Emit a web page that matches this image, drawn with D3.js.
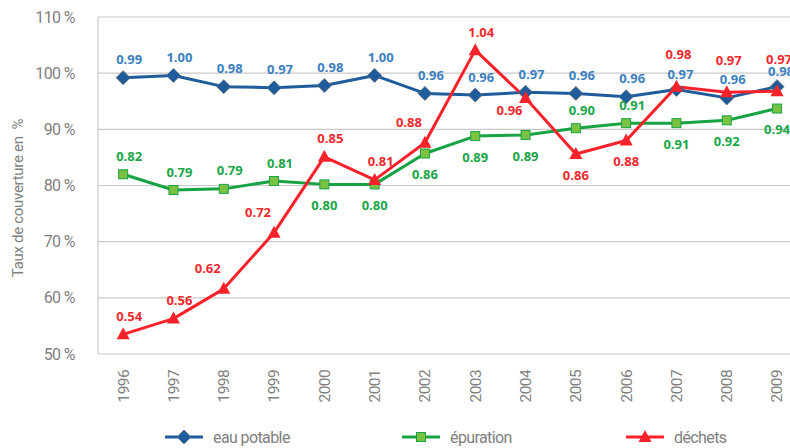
<!DOCTYPE html>
<html>
<head>
<meta charset="utf-8">
<script src="https://cdn.jsdelivr.net/npm/d3@7"></script>
<style>
	body { margin: 0; background: #fff; }
	svg { display: block; }
	.tick-label { font-family: Roboto, sans-serif; fill: #808080; }
	.data-label { font-family: "Open Sans", sans-serif; font-weight: bold; font-size: 13px; }
</style>
</head>
<body>
<svg id="chart" width="790" height="448"></svg>
<script>
"use strict";

// Data
var years = ['1996', '1997', '1998', '1999', '2000', '2001', '2002', '2003', '2004', '2005', '2006', '2007', '2008', '2009'];
var eauPotable = [0.992, 0.996, 0.976, 0.974, 0.978, 0.996, 0.964, 0.961, 0.966, 0.964, 0.958, 0.971, 0.956, 0.976];
var epuration = [0.820, 0.792, 0.794, 0.808, 0.802, 0.802, 0.857, 0.888, 0.890, 0.902, 0.911, 0.911, 0.916, 0.937];
var dechets = [0.535, 0.563, 0.616, 0.716, 0.851, 0.810, 0.876, 1.041, 0.956, 0.856, 0.880, 0.976, 0.966, 0.968];
var yTicks = [0.5, 0.6, 0.7, 0.8, 0.9, 1.0, 1.1];

// Label sides (t = top, b = bottom, tl = top left, bl = bottom left, tt = high top, tn = near top)
var eauSides = ['t', 't', 't', 't', 't', 't', 't', 't', 't', 't', 't', 'tn', 't', 'tn'];
var epuSides = ['t', 't', 't', 't', 'b', 'b', 'b', 'b', 'b', 't', 't', 'b', 'b', 'b'];
var decSides = ['t', 't', 'tl', 'tl', 't', 't', 'tl', 't', 'bl', 'b', 'b', 'tt', 'tt', 'tt'];

var offsets = {
	t: [6, -18],
	tn: [4, -15],
	b: [0, 21],
	tl: [-16, -20],
	bl: [-16, 13],
	tt: [2, -32]
};

var series = [
	{ name: 'eau potable', values: eauPotable, sides: eauSides, line: '#1f5c9b', label: '#3b7fc0', marker: 'diamond', fill: '#1f5c9b', stroke: '#5a6a7a' },
	{ name: 'épuration', values: epuration, sides: epuSides, line: '#17a344', label: '#1aa648', marker: 'square', fill: '#7cc242', stroke: '#17a344' },
	{ name: 'déchets', values: dechets, sides: decSides, line: '#f8222a', label: '#ef2a2e', marker: 'triangle', fill: '#f8222a', stroke: '#f8222a' }
];

var svg = d3.select('#chart');
var plot = { left: 98, top: 17, bottom: 354, step: 50.3 };

var x = d3.scaleBand()
	.domain(years)
	.range([plot.left, plot.left + plot.step * years.length]);

var y = d3.scaleLinear()
	.domain([0.5, 1.1])
	.range([plot.bottom, plot.top]);

var cx = function(d) { return x(d) + x.bandwidth() / 2; };

// Grid
svg.append('g')
	.selectAll('line')
	.data(yTicks)
	.join('line')
	.attr('x1', plot.left)
	.attr('x2', x.range()[1])
	.attr('y1', function(d) { return y(d); })
	.attr('y2', function(d) { return y(d); })
	.attr('stroke', '#c9c9c9')
	.attr('stroke-width', 1.2);

svg.append('line')
	.attr('x1', plot.left).attr('x2', plot.left)
	.attr('y1', y(1.1)).attr('y2', y(0.5))
	.attr('stroke', '#c9c9c9')
	.attr('stroke-width', 1.2);

// Y axis
var yAxis = svg.append('g')
	.attr('transform', 'translate(' + (plot.left - 8) + ',0)')
	.call(d3.axisLeft(y).tickValues(yTicks).tickSize(0).tickPadding(14)
		.tickFormat(function(d) { return Math.round(d * 100) + ' %'; }));
yAxis.select('.domain').remove();
yAxis.selectAll('text')
	.attr('class', 'tick-label')
	.attr('font-size', 16)
	.attr('letter-spacing', -0.6)
	.attr('x', -15);

// X axis
var xAxis = svg.append('g')
	.attr('transform', 'translate(0,' + plot.bottom + ')')
	.call(d3.axisBottom(x).tickSize(0).tickPadding(0));
xAxis.select('.domain').remove();
xAxis.selectAll('text')
	.attr('class', 'tick-label')
	.attr('font-size', 15.5)
	.attr('letter-spacing', -0.6)
	.attr('text-anchor', 'end')
	.attr('transform', 'rotate(-90)')
	.attr('x', -16)
	.attr('y', 0)
	.attr('dy', '0.35em');

// Y title
svg.append('text')
	.attr('class', 'tick-label')
	.attr('font-size', 15)
	.attr('letter-spacing', -0.3)
	.attr('text-anchor', 'middle')
	.attr('transform', 'translate(23,198) rotate(-90)')
	.style('white-space', 'pre')
	.text('Taux de couverture en  %');

// Marker shapes
var drawMarker = function(g, s) {
	if (s.marker === 'diamond') {
		g.append('path').attr('d', 'M0,-7L7,0L0,7L-7,0Z')
			.attr('fill', s.fill).attr('stroke', s.stroke).attr('stroke-width', 0.8);
	} else if (s.marker === 'square') {
		g.append('rect').attr('x', -4.5).attr('y', -4.5).attr('width', 9).attr('height', 9)
			.attr('fill', s.fill).attr('stroke', s.stroke).attr('stroke-width', 1);
	} else {
		g.append('path').attr('d', 'M0,-7L6.5,5L-6.5,5Z')
			.attr('fill', s.fill);
	}
};

var line = d3.line()
	.x(function(d, i) { return cx(years[i]); })
	.y(function(d) { return y(d); });

// Lines
series.forEach(function(s) {
	svg.append('path')
		.datum(s.values)
		.attr('d', line)
		.attr('fill', 'none')
		.attr('stroke', s.line)
		.attr('stroke-width', 3)
		.attr('stroke-linejoin', 'round');
});

// Markers
series.forEach(function(s) {
	s.values.forEach(function(v, i) {
		var g = svg.append('g').attr('transform', 'translate(' + cx(years[i]) + ',' + y(v) + ')');
		drawMarker(g, s);
	});
});

// Data labels
series.forEach(function(s) {
	svg.append('g')
		.selectAll('text')
		.data(s.values)
		.join('text')
		.attr('class', 'data-label')
		.attr('fill', s.label)
		.attr('text-anchor', 'middle')
		.attr('x', function(d, i) { return cx(years[i]) + offsets[s.sides[i]][0]; })
		.attr('y', function(d, i) { return y(d) + offsets[s.sides[i]][1]; })
		.attr('dy', '0.35em')
		.text(function(d) { return d3.format('.2f')(d); });
});

// Legend
var legendX = [165, 402, 626];
series.forEach(function(s, i) {
	var g = svg.append('g').attr('transform', 'translate(' + legendX[i] + ',437)');
	g.append('line')
		.attr('x1', 0).attr('x2', 38)
		.attr('stroke', s.line).attr('stroke-width', 3);
	var m = g.append('g').attr('transform', 'translate(19,0)');
	drawMarker(m, s);
	g.append('text')
		.attr('class', 'tick-label')
		.attr('font-size', 16)
		.attr('letter-spacing', -0.6)
		.attr('x', 48)
		.attr('dy', '0.35em')
		.text(s.name);
});
</script>
</body>
</html>
